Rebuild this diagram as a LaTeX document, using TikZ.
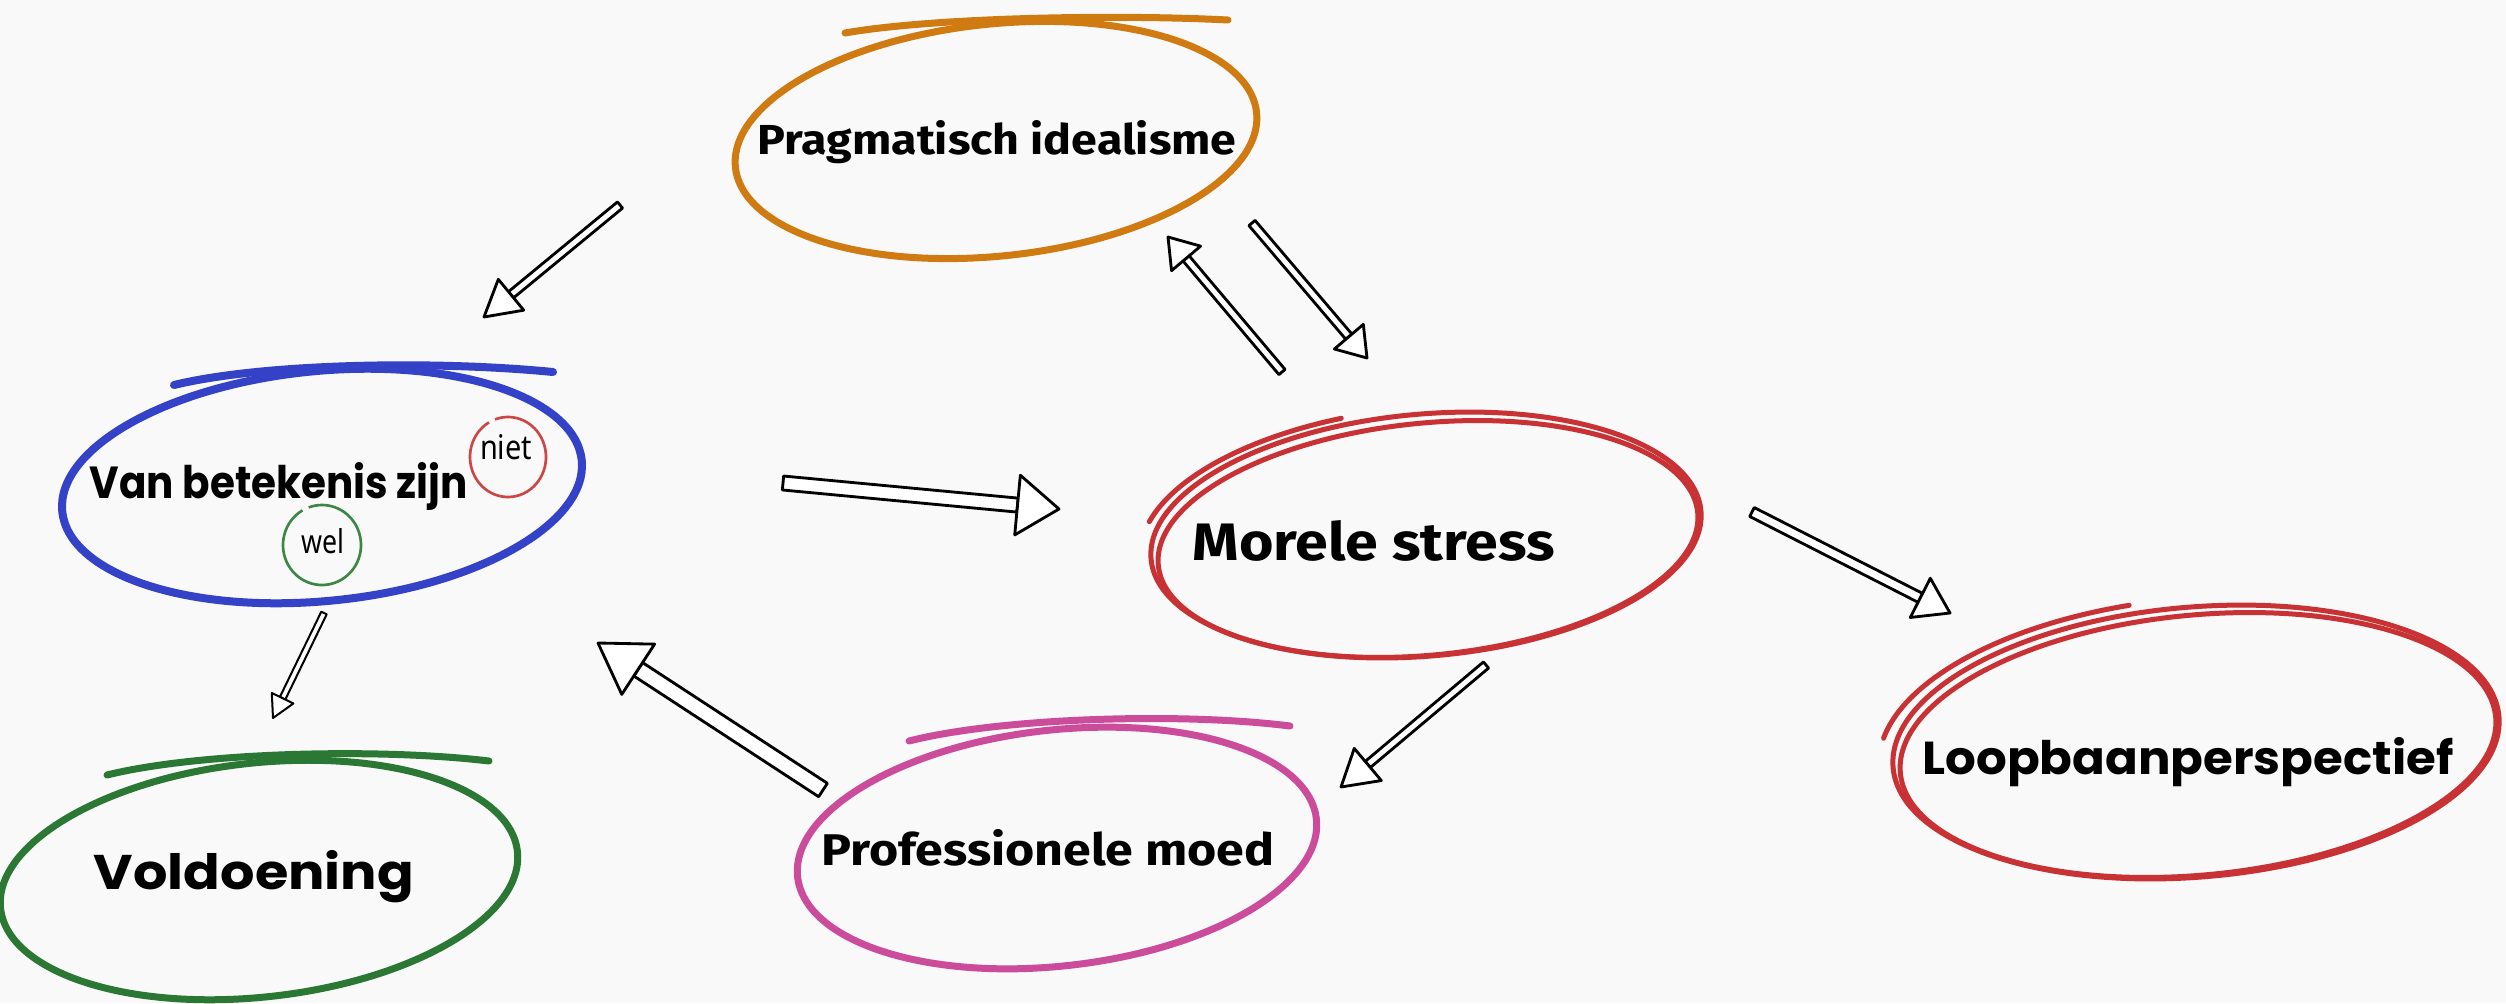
\documentclass[tikz,border=0pt]{standalone}
\usepackage{fontspec}
\usepackage{graphicx}
\setmainfont{Fira Sans}
\newfontfamily\popfont{Poppins}
\newfontfamily\handfont{Noto Sans}
\usetikzlibrary{calc}
\definecolor{bgc}{RGB}{249,249,249}
\definecolor{corange}{RGB}{208,122,18}
\definecolor{cblue}{RGB}{52,66,200}
\definecolor{cred}{RGB}{200,50,52}
\definecolor{cgreen}{RGB}{42,120,52}
\definecolor{cpink}{RGB}{204,76,156}
\definecolor{cnietred}{RGB}{205,70,70}
\definecolor{cwelgreen}{RGB}{60,135,70}
\tikzset{
  ring/.style={line width=2.1pt, line cap=round},
  dbl/.style={line width=1.5pt, line cap=round, draw=cred},
  arrowline/.style={draw=black, fill=white, line join=round},
  lbl/.style={anchor=base, inner sep=0pt, text=black},
}
\newcommand\harrow[6][0.85pt]{%
  \coordinate (hb) at ($(#3)!#5!(#2)$);
  \draw[arrowline, line width=#1] ($(#2)!#4!90:(hb)$) -- ($(hb)!#4!-90:(#2)$) -- ($(hb)!#4!90:(#2)$) -- ($(#2)!#4!-90:(hb)$) -- cycle;
  \draw[arrowline, line width=#1] (#3) -- ($(hb)!#6!-90:(#2)$) -- ($(hb)!#6!90:(#2)$) -- cycle;
}
\begin{document}
\begin{tikzpicture}[x=0.3pt,y=-0.3pt]
\fill[bgc] (0,0) rectangle (2506,1003);
\useasboundingbox (0,0) rectangle (2506,1003);

% Pragmatisch idealisme
\draw[ring, corange, rotate around={6:(996,140)}] (996,140) ellipse [x radius=262, y radius=116];
\draw[ring, corange] (845,33) .. controls (930,18) and (1110,14) .. (1228,20);
\node[lbl] (prag) at (997,154) {\resizebox{143.7pt}{10.2pt}{\bfseries Pragmatisch idealisme}};

% Van betekenis zijn
\draw[ring, cblue, line width=2.4pt, rotate around={5.6:(322,486)}] (322,486) ellipse [x radius=261, y radius=115];
\draw[ring, cblue, line width=2.4pt] (174,385) .. controls (260,364) and (430,360) .. (553,372);
\node[lbl] (van) at (279,498) {\resizebox{113.4pt}{10.8pt}{\popfont\bfseries Van betekenis zijn}};
\draw[cnietred, line width=0.8pt] (508,457) ++(-120:38 and 40) arc[start angle=-120, end angle=-470, x radius=38, y radius=40];
\node[lbl] (niet) at (506,459) {\resizebox{15.6pt}{7.5pt}{\handfont niet}};
\draw[cwelgreen, line width=0.8pt] (322,545) ++(-120:39 and 40) arc[start angle=-120, end angle=-470, x radius=39, y radius=40];
\node[lbl] (wel) at (323,553) {\resizebox{12.9pt}{7.5pt}{\handfont wel}};

% Voldoening
\draw[ring, cgreen, rotate around={6.3:(259,880)}] (259,880) ellipse [x radius=260, y radius=117];
\draw[ring, cgreen] (107,775) .. controls (200,752) and (380,748) .. (489,761);
\node[lbl] (vold) at (254,889) {\resizebox{96pt}{11.7pt}{\popfont\bfseries Voldoening}};

% Professionele moed
\draw[ring, cpink, rotate around={6.4:(1057,848)}] (1057,848) ellipse [x radius=261, y radius=118];
\draw[ring, cpink] (909,741) .. controls (1000,718) and (1180,712) .. (1290,726);
\node[lbl] (prof) at (1048,865) {\resizebox{135.9pt}{10.8pt}{\bfseries Professionele moed}};

% Morele stress
\draw[dbl, rotate around={5:(1426,535)}] (1426,535) ellipse [x radius=276, y radius=121];
\draw[dbl, rotate around={5.6:(1428,539)}] (1428,539) ellipse [x radius=271, y radius=116];
\draw[dbl, rotate around={5:(1426,535)}] (1426,535) ++(-105:287 and 128) arc[start angle=-105, end angle=-163, x radius=287, y radius=128];
\node[lbl] (mor) at (1374,560) {\resizebox{108.6pt}{12pt}{\bfseries Morele stress}};

% Loopbaanperspectief
\draw[dbl, rotate around={4.8:(2196,742)}] (2196,742) ellipse [x radius=304, y radius=135];
\draw[dbl, rotate around={5.4:(2198,745)}] (2198,745) ellipse [x radius=299, y radius=130];
\draw[dbl, rotate around={4.8:(2196,742)}] (2196,742) ++(-100:318 and 144) arc[start angle=-100, end angle=-168, x radius=318, y radius=144];
\node[lbl] (lbp) at (2188,774) {\resizebox{159.3pt}{11.1pt}{\popfont\bfseries Loopbaanperspectief}};

% arrows
\coordinate (a1s) at (620,205);  \coordinate (a1e) at (484,317);
\coordinate (a2s) at (783,483);  \coordinate (a2e) at (1059,509);
\coordinate (a3s) at (1282,372); \coordinate (a3e) at (1168,237);
\coordinate (a4s) at (1252,223); \coordinate (a4e) at (1367,358);
\coordinate (a5s) at (1752,512); \coordinate (a5e) at (1950,613);
\coordinate (a6s) at (1486,665); \coordinate (a6e) at (1341,787);
\coordinate (a7s) at (823,790);  \coordinate (a7e) at (598,643);
\coordinate (a8s) at (324,613);  \coordinate (a8e) at (273,718);
\harrow{a1s}{a1e}{1.2pt}{10.5pt}{6pt}
\harrow{a2s}{a2e}{2.1pt}{12.5pt}{9pt}
\harrow{a3s}{a3e}{1.2pt}{8.4pt}{5.7pt}
\harrow{a4s}{a4e}{1.2pt}{8.4pt}{5.7pt}
\harrow{a5s}{a5e}{1.5pt}{10pt}{6.6pt}
\harrow{a6s}{a6e}{1.2pt}{10.5pt}{6.3pt}
\harrow{a7s}{a7e}{2.4pt}{14.4pt}{9pt}
\harrow[0.6pt]{a8s}{a8e}{0.9pt}{6.6pt}{3.6pt}
\end{tikzpicture}
\end{document}
